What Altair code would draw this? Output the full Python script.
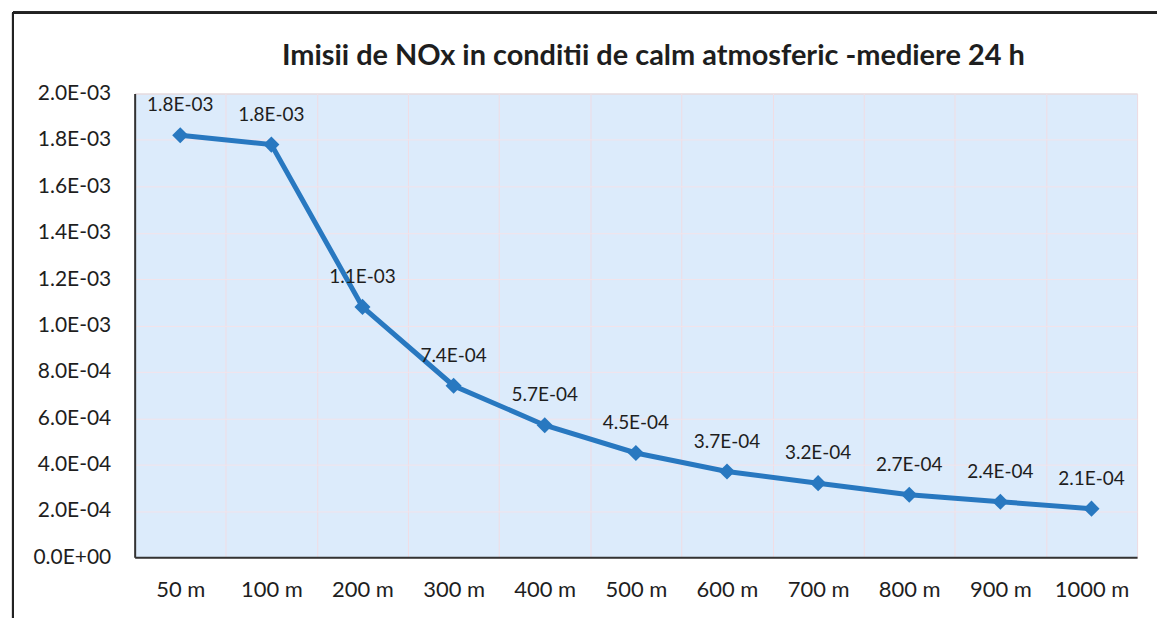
import altair as alt
import pandas as pd

categories = ["50 m", "100 m", "200 m", "300 m", "400 m", "500 m", "600 m", "700 m", "800 m", "900 m", "1000 m"]
values = [1.82e-3, 1.78e-3, 1.08e-3, 7.4e-4, 5.7e-4, 4.5e-4, 3.7e-4, 3.2e-4, 2.7e-4, 2.4e-4, 2.1e-4]
labels = ["1.8E-03", "1.8E-03", "1.1E-03", "7.4E-04", "5.7E-04", "4.5E-04", "3.7E-04", "3.2E-04", "2.7E-04", "2.4E-04", "2.1E-04"]
y_ticks = [i * 2e-4 for i in range(11)]
title_text = "Imisii de NOx in conditii de calm atmosferic -mediere 24 h"

df = pd.DataFrame({"dist": categories, "val": values, "lab": labels})

FONT = "Lato"
LINE = "#2878c0"
TXT = "#1e1e1e"

x = alt.X("dist:N", sort=categories, title=None,
          scale=alt.Scale(paddingInner=0, paddingOuter=0),
          axis=alt.Axis(labelAngle=0, labelFontSize=22, labelColor=TXT, labelFont=FONT,
                        labelPadding=22, ticks=False, domainColor="#333333", domainWidth=2,
                        grid=True, tickBand="extent", gridColor="#f0dde4", gridWidth=1))
y = alt.Y("val:Q", title=None,
          scale=alt.Scale(domain=[0, 2e-3], nice=False),
          axis=alt.Axis(values=y_ticks, labelFontSize=21, labelColor=TXT, labelFont=FONT,
                        labelPadding=24, ticks=False, domainColor="#333333", domainWidth=2,
                        gridColor="#f3e3ea", gridWidth=1,
                        labelExpr="replace(replace(upper(format(datum.value, '.1e')), 'E-', 'E-0'), 'E+', 'E+0')"))

base = alt.Chart(df)

line = base.mark_line(color=LINE, strokeWidth=5).encode(x=x, y=y)
pts = base.mark_point(shape="diamond", filled=True, size=260, color=LINE, opacity=1).encode(x=x, y=y)
txt = base.mark_text(dy=-30, fontSize=19, font=FONT, color=TXT).encode(x=x, y=y, text="lab:N")

title = alt.Chart(pd.DataFrame({"t": [title_text]})).mark_text(
    fontSize=29, font=FONT, fontWeight="bold", color=TXT, clip=False).encode(
    x=alt.value(520), y=alt.value(-38), text="t:N")

frame_left = alt.Chart(df).mark_rule(color="#222222", strokeWidth=2, clip=False).encode(
    x=alt.value(-122), y=alt.value(-81), y2=alt.value(540))
frame_top = alt.Chart(df).mark_rule(color="#222222", strokeWidth=2, clip=False).encode(
    x=alt.value(-122), x2=alt.value(1030), y=alt.value(-81))

chart = alt.layer(line, pts, txt, title, frame_left, frame_top).properties(
    width=1005, height=465,
    autosize=alt.AutoSizeParams(type="none"),
    padding={"left": 127, "top": 85, "right": 20, "bottom": 60},
).configure_view(fill="#dcebfb", stroke="#c8c8c8", strokeWidth=1)

chart.save("out.html", embed_options={"renderer": "svg", "actions": False})
